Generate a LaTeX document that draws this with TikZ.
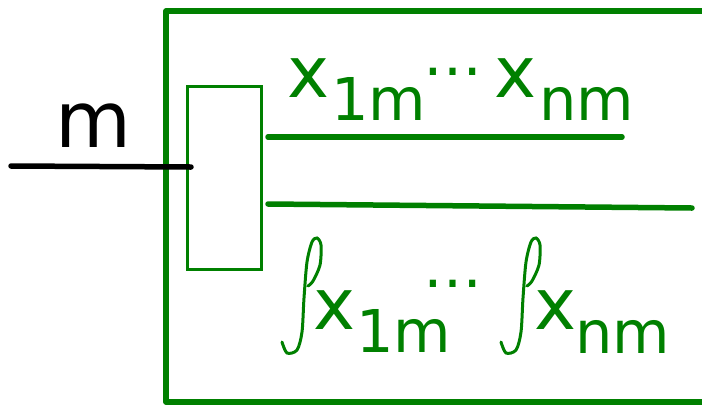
\documentclass[tikz,border=0pt]{standalone}
\usepackage{fontspec}
\setmainfont{DejaVu Sans}
\usepackage{tikz}
\usetikzlibrary{positioning,calc}

\begin{document}
\begin{tikzpicture}[x=1bp,y=-1bp,
  grn/.style={green!50!black},
  frame/.style={draw=green!50!black,line width=5.5bp,line cap=round,line join=round},
  wire/.style={line width=5.5bp,line cap=round},
  intstroke/.style={draw=green!50!black,line width=3bp,line cap=round},
  big/.style={grn,inner sep=0,anchor=base west,font=\fontsize{71bp}{80bp}\selectfont},
  sub/.style={grn,inner sep=0,anchor=base west,font=\fontsize{59bp}{66bp}\selectfont}]
\useasboundingbox (0,0) rectangle (702,404);
% frame, open to the right
\draw[frame] (702,11) -- (166,11) -- (166,402) -- (702,402);
\node[draw=green!50!black,line width=3bp,inner sep=0,outer sep=0,
  minimum width=74bp,minimum height=183bp] (blk) at (224,177.5) {};
% input m
\coordinate (min) at (11,166);
\coordinate (mend) at (191,167);
\draw[wire] (min) -- (mend);
\node[inner sep=0,anchor=base west,font=\fontsize{78bp}{86bp}\selectfont] (mlbl) at (55,147) {m};
% outputs
\coordinate (o1a) at (268,137);
\coordinate (o1b) at (622,137);
\coordinate (o2a) at (268,204);
\coordinate (o2b) at (692,208);
\draw[wire,grn] (o1a) -- (o1b);
\draw[wire,grn] (o2a) -- (o2b);
% top labels
\node[big] (xa) at (287,97) {x};
\node[sub] (xai) at (331,120) {1m};
\node[sub,anchor=base] (dta) at (453,75) {…};
\node[big] (xb) at (494,97) {x};
\node[sub] (xbi) at (539,120) {nm};
% bottom labels
\foreach \dx in {0,219}
  \draw[intstroke,xshift=\dx bp] plot[smooth] coordinates
    {(282,342) (287,353) (297,350) (302,332) (304,298) (307,262) (312,242)
     (317,238) (321,245) (320,265) (313,281) (308,286)};
\node[big] (xc) at (313,329) {x};
\node[sub] (xci) at (356,352) {1m};
\node[sub,anchor=base] (dtc) at (453,287) {…};
\node[big] (xd) at (534,329) {x};
\node[sub] (xdi) at (575,353) {nm};
\end{tikzpicture}
\end{document}
